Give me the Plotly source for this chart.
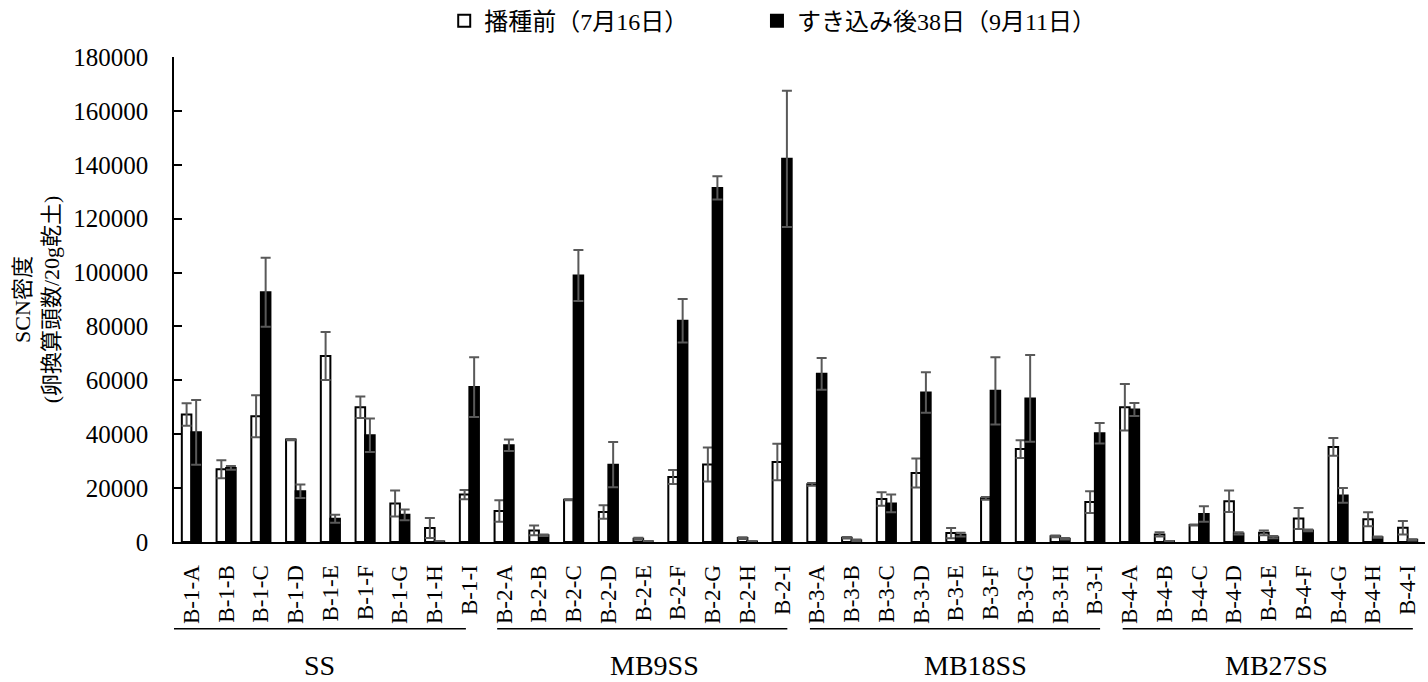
import plotly.graph_objects as go

categories = [f"B-{g}-{s}" for g in range(1, 5) for s in "ABCDEFGHI"]
groups = ["SS", "MB9SS", "MB18SS", "MB27SS"]

before = [47300, 27000, 46700, 38000, 69000, 50000, 14300, 5200, 17600,
          11500, 4300, 15700, 11100, 1200, 24100, 28800, 1450, 29700,
          21400, 1600, 16000, 25600, 3300, 16200, 34500, 2100, 14800,
          50000, 2800, 6300, 15100, 3400, 8700, 35300, 8400, 5300]
before_err = [4200, 3300, 7800, 200, 8900, 4000, 4800, 3700, 1700,
              4000, 1800, 200, 2500, 400, 2600, 6300, 300, 6800,
              500, 300, 2500, 5400, 1900, 500, 3300, 300, 4000,
              8600, 800, 200, 4000, 900, 3900, 3300, 2600, 2500]
after = [40700, 27500, 92700, 18800, 8650, 39600, 10100, 200, 57500,
         35900, 2500, 98900, 28700, 300, 82100, 131400, 200, 142200,
         62400, 600, 14300, 55500, 2700, 56100, 53300, 1200, 40400,
         49200, 300, 10400, 3200, 1800, 4300, 17300, 1800, 800]
after_err = [12000, 700, 12800, 2500, 1500, 6200, 2000, 100, 11100,
             2100, 300, 9500, 8400, 100, 8100, 4300, 100, 25300,
             5900, 300, 3300, 7500, 700, 12500, 16100, 300, 3800,
             2400, 100, 2900, 400, 400, 300, 2700, 200, 200]

SERIF = "'Liberation Serif', 'DejaVu Serif', 'Noto Sans CJK JP', serif"
ERR = dict(type="data", visible=True, color="#595959", thickness=2, width=5)

fig = go.Figure()
fig.add_trace(go.Bar(
    x=categories, y=before, name="播種前（7月16日）", legend="legend",
    marker=dict(color="white", line=dict(color="black", width=2)),
    error_y=dict(array=before_err, **ERR),
))
fig.add_trace(go.Bar(
    x=categories, y=after, name="すき込み後38日（9月11日）", legend="legend2",
    marker=dict(color="black", line=dict(color="black", width=2)),
    error_y=dict(array=after_err, **ERR),
))

shapes = []
annotations = []
line_y = -0.179
label_shift = [0.0, 0.35, 0.6, 0.25]
for gi, gname in enumerate(groups):
    start = 9 * gi - 0.5
    end = 9 * gi + 8.5
    x0 = start if gi == 0 else start + 0.3
    x1 = end - 0.6 if gi == 0 else end - 0.35
    shapes.append(dict(type="line", xref="x", yref="paper", x0=x0, x1=x1,
                       y0=line_y, y1=line_y, line=dict(color="black", width=1.5)))
    annotations.append(dict(text=gname, xref="x", yref="paper",
                            x=(x0 + x1) / 2 + label_shift[gi],
                            y=-0.255, showarrow=False, yanchor="middle",
                            font=dict(family=SERIF, size=28, color="black")))

legend_style = dict(orientation="h", xanchor="left", y=1.074, yanchor="middle",
                    font=dict(family=SERIF, size=24, color="black"),
                    bgcolor="rgba(0,0,0,0)", borderwidth=0)

fig.update_layout(
    width=1428, height=682,
    margin=dict(l=174, r=3, t=57, b=140, autoexpand=False),
    paper_bgcolor="white", plot_bgcolor="white",
    barmode="group", bargap=0.45, bargroupgap=0,
    font=dict(family=SERIF, color="black"),
    showlegend=True,
    legend=dict(x=0.216, **legend_style),
    legend2=dict(x=0.466, **legend_style),
    shapes=shapes, annotations=annotations,
)
fig.update_yaxes(
    range=[0, 180000], dtick=20000, tickformat="d", showgrid=False, zeroline=False,
    showline=True, linecolor="black", linewidth=1.5,
    ticks="inside", ticklen=8, tickwidth=1.5, tickcolor="black",
    ticklabelstandoff=19,
    tickfont=dict(family=SERIF, size=25, color="black"),
    title=dict(text="SCN密度<br>(卵換算頭数/20g乾土)", standoff=8,
               font=dict(family=SERIF, size=22, color="black")),
)
fig.update_xaxes(
    showgrid=False, showline=True, linecolor="black", linewidth=2,
    ticks="", tickangle=-90, ticklabelstandoff=12,
    tickfont=dict(family=SERIF, size=23, color="black"),
    range=[-0.5, len(categories) - 0.5],
)

fig.write_html("out.html")
